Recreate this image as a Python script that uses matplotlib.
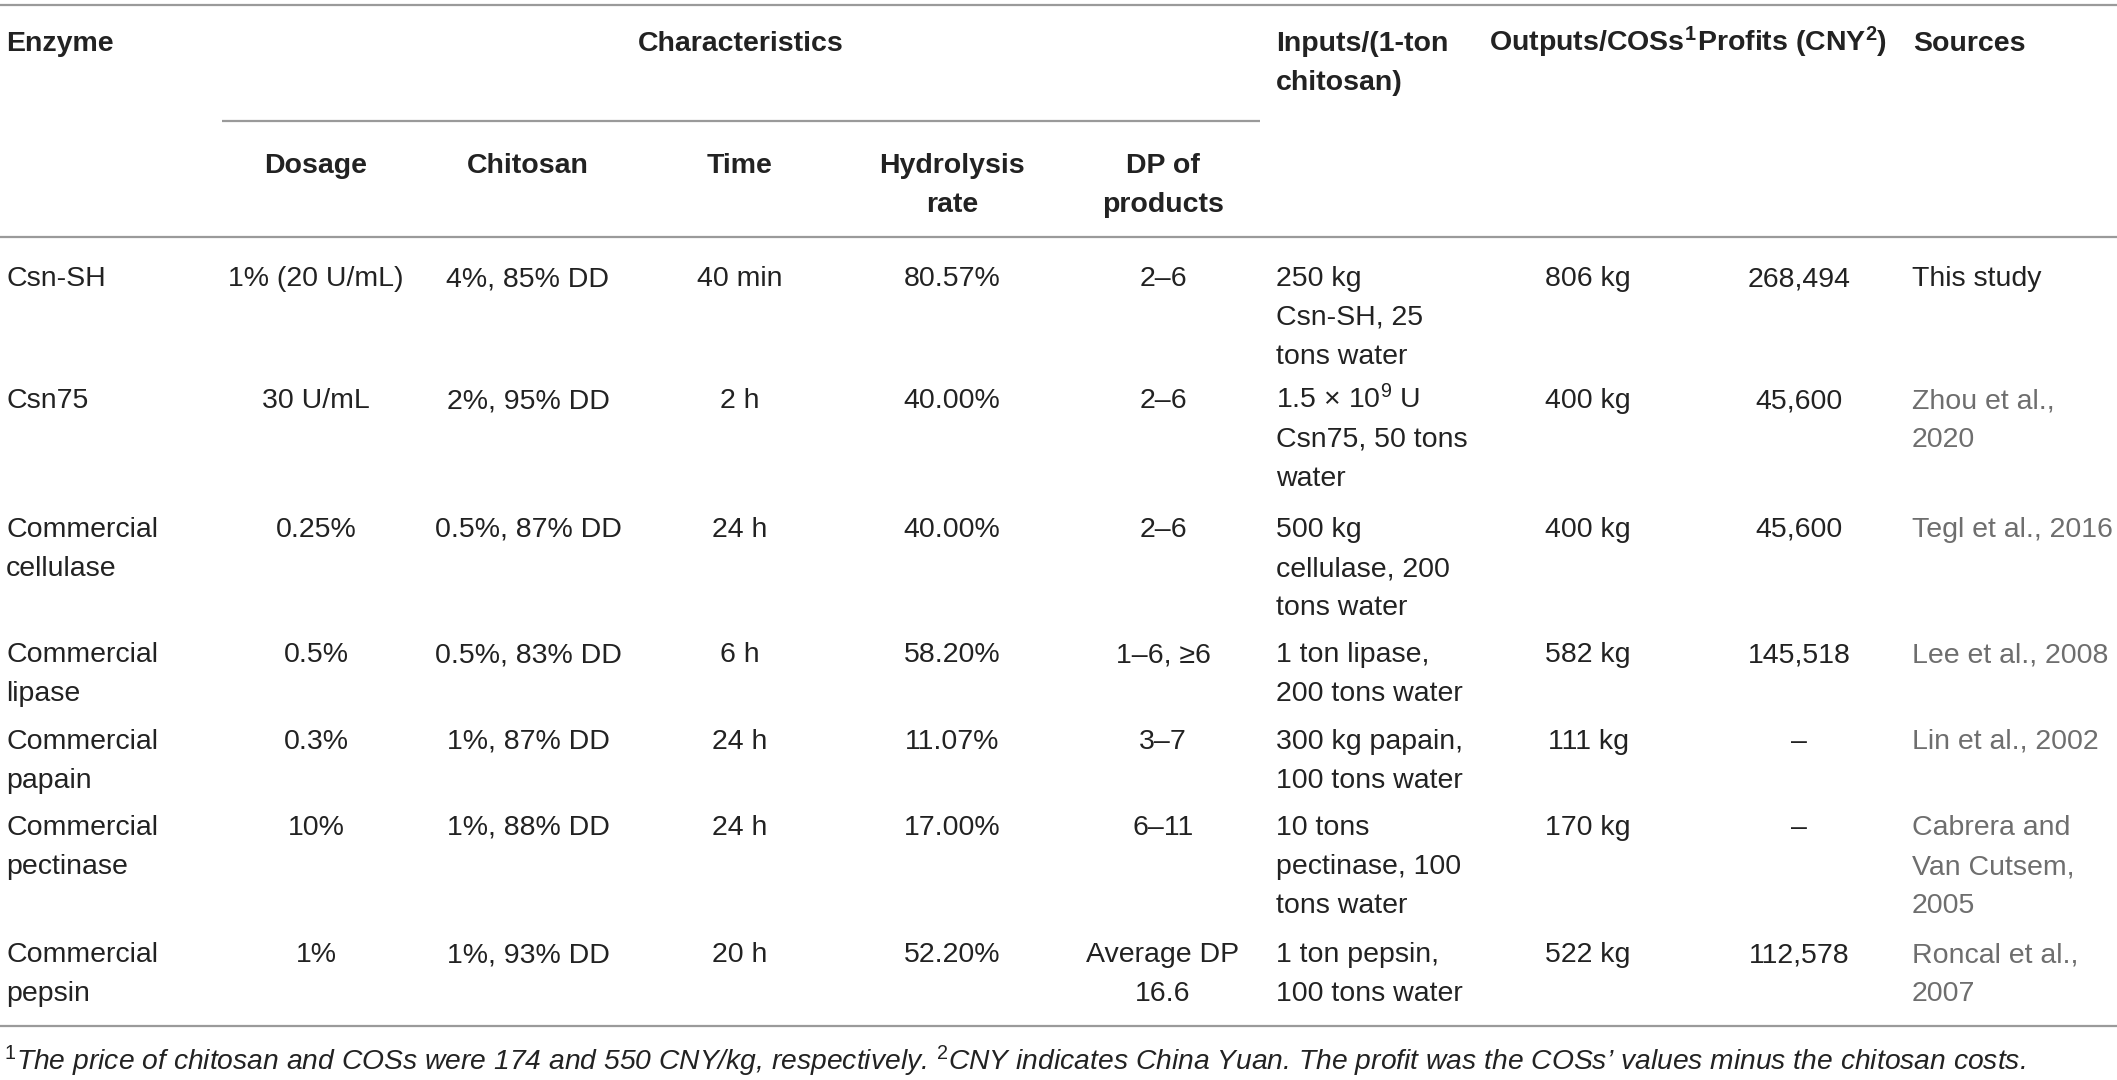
import matplotlib
matplotlib.use("Agg")
import matplotlib.pyplot as plt

plt.rcParams['font.family'] = ['Liberation Sans', 'DejaVu Sans']
plt.rcParams['mathtext.fontset'] = 'custom'
plt.rcParams['mathtext.rm'] = 'Liberation Sans'
plt.rcParams['mathtext.it'] = 'Liberation Sans:italic'
plt.rcParams['mathtext.bf'] = 'Liberation Sans:bold'

# ---------------- data ----------------
enzymes = ["Csn-SH", "Csn75", "Commercial\ncellulase", "Commercial\nlipase",
           "Commercial\npapain", "Commercial\npectinase", "Commercial\npepsin"]
dosage = ["1% (20 U/mL)", "30 U/mL", "0.25%", "0.5%", "0.3%", "10%", "1%"]
chitosan = ["4%, 85% DD", "2%, 95% DD", "0.5%, 87% DD", "0.5%, 83% DD",
            "1%, 87% DD", "1%, 88% DD", "1%, 93% DD"]
time_ = ["40 min", "2 h", "24 h", "6 h", "24 h", "24 h", "20 h"]
hydrolysis = ["80.57%", "40.00%", "40.00%", "58.20%", "11.07%", "17.00%", "52.20%"]
dp = ["2\u20136", "2\u20136", "2\u20136", "1\u20136, \u22656", "3\u20137", "6\u201311",
      "Average DP\n16.6"]
inputs = ["250 kg\nCsn-SH, 25\ntons water",
          "1.5 \u00d7 10$^{\\mathrm{9}}$ U\nCsn75, 50 tons\nwater",
          "500 kg\ncellulase, 200\ntons water",
          "1 ton lipase,\n200 tons water",
          "300 kg papain,\n100 tons water",
          "10 tons\npectinase, 100\ntons water",
          "1 ton pepsin,\n100 tons water"]
outputs = ["806 kg", "400 kg", "400 kg", "582 kg", "111 kg", "170 kg", "522 kg"]
profits = ["268,494", "45,600", "45,600", "145,518", "\u2013", "\u2013", "112,578"]
sources = ["This study", "Zhou et al.,\n2020", "Tegl et al., 2016", "Lee et al., 2008",
           "Lin et al., 2002", "Cabrera and\nVan Cutsem,\n2005", "Roncal et al.,\n2007"]

top_headers = ["Enzyme", "Characteristics", "Inputs/(1-ton\nchitosan)",
               "Outputs/COSs$^{\\mathbf{1}}$", "Profits (CNY$^{\\mathbf{2}}$)", "Sources"]
sub_headers = ["Dosage", "Chitosan", "Time", "Hydrolysis\nrate", "DP of\nproducts"]
footnote = ("$^{\\mathrm{1}}$The price of chitosan and COSs were 174 and 550 CNY/kg, "
            "respectively. $^{\\mathrm{2}}$CNY indicates China Yuan. The profit was the "
            "COSs\u2019 values minus the chitosan costs.")

# ---------------- layout ----------------
W, H = 2117, 1080
fig = plt.figure(figsize=(W / 100, H / 100), dpi=100)
ax = fig.add_axes([0, 0, 1, 1])
ax.set_xlim(0, W)
ax.set_ylim(H, 0)
ax.axis('off')

FS = 20.5
LS = 39.0
TXT = '#222222'
GRAY = '#6e6e6e'
RULE = '#9a9a9a'


def cell(x, y, s, ha='left', color=TXT, weight='normal'):
    for i, line in enumerate(s.split('\n')):
        ax.text(x, y + i * LS, line, ha=ha, va='baseline', fontsize=FS,
                color=color, fontweight=weight)


# rules
ax.plot([0, W], [5, 5], color=RULE, lw=1.6, solid_capstyle='butt')
ax.plot([222, 1260], [121, 121], color=RULE, lw=1.6, solid_capstyle='butt')
ax.plot([0, W], [237, 237], color=RULE, lw=1.6, solid_capstyle='butt')
ax.plot([0, W], [1026, 1026], color=RULE, lw=1.6, solid_capstyle='butt')

# top header row
hy = 51
cell(6, hy, top_headers[0], weight='bold')
cell(741, hy, top_headers[1], ha='center', weight='bold')
cell(1276, hy, top_headers[2], weight='bold')
cell(1489, hy, top_headers[3], weight='bold')
cell(1697, hy, top_headers[4], weight='bold')
cell(1913, hy, top_headers[5], weight='bold')

# sub headers
char_x = [316, 528, 740, 952, 1163]
for x, s in zip(char_x, sub_headers):
    cell(x, 173, s, ha='center', weight='bold')

# body rows
row_y = [286, 408, 537, 662, 749, 835, 962]
for i, y in enumerate(row_y):
    cell(6, y, enzymes[i])
    for x, col in zip(char_x, [dosage, chitosan, time_, hydrolysis, dp]):
        cell(x, y, col[i], ha='center')
    cell(1276, y, inputs[i])
    cell(1588, y, outputs[i], ha='center')
    cell(1799, y, profits[i], ha='center')
    cell(1912, y, sources[i], color=TXT if i == 0 else GRAY)

# footnote, scaled to span the measured width
fn = ax.text(4, 1070, footnote, ha='left', va='baseline', fontsize=FS,
             style='italic', color=TXT)
fig.canvas.draw()
bb = fn.get_window_extent(renderer=fig.canvas.get_renderer())
target = 2022.0
fn.set_fontsize(FS * target / bb.width)

fig.savefig('out.png', dpi=100)
